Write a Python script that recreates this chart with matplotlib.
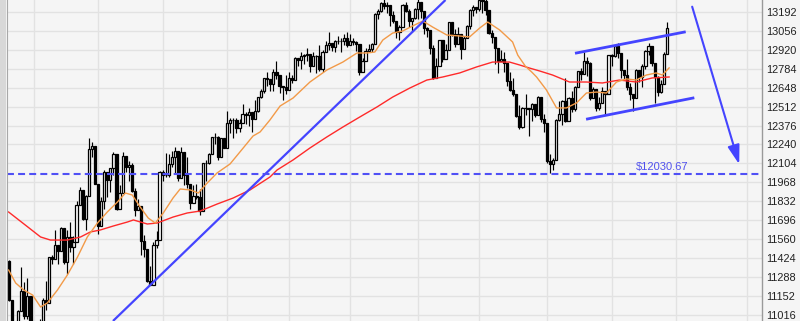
import matplotlib
matplotlib.use("Agg")
import matplotlib.pyplot as plt
import numpy as np
from matplotlib.patches import Rectangle
from matplotlib.lines import Line2D

plt.rcParams["font.family"] = ["Liberation Sans", "DejaVu Sans"]
plt.rcParams["lines.scale_dashes"] = False

# ---- daily OHLC, 21 Sep 2011 .. 27 Jul 2012 (bar 0 = 3 Oct 2011) ----
first_bar = -8

opens = [
    11408, 11125, 10734, 10771, 11044, 11191, 11011, 11154,
    10913, 10655, 10809, 10940, 11123, 11103, 11433, 11416, 11519, 11478, 11644, 11397, 11577, 11505, 11542, 11809, 11914, 11707, 11869, 12209, 12231,
    11955, 11658, 11836, 12044, 11983, 12068, 12170, 11781, 11894, 12154, 12079, 12096, 11906, 11771, 11796, 11547, 11494, 11258, 11232, 11523, 11556,
    12046, 12020, 12019, 12098, 12150, 12196, 11998, 12184, 12021, 11955, 11823, 11869, 11866, 11766, 12104, 12108, 12170, 12294, 12291, 12151, 12287,
    12218, 12397, 12418, 12416, 12360, 12393, 12462, 12449, 12471, 12422, 12482, 12579, 12624, 12720, 12709, 12676, 12757, 12735, 12660, 12654,
    12633, 12716, 12705, 12862, 12845, 12878, 12884, 12890, 12801, 12874, 12878, 12781, 12904, 12950, 12966, 12939, 12985, 12983, 12981, 13005,
    12952, 12980, 12978, 12963, 12759, 12837, 12908, 12922, 12960, 13178, 13194, 13253, 13233, 13239, 13170, 13125, 13046, 13081, 13242, 13198, 13126, 13146,
    13212, 13264, 13200, 13075, 13060, 12930, 12716, 12805, 12987, 12850, 12921, 13116, 13033, 12964, 13029, 12927, 13002, 13091, 13205, 13228,
    13214, 13279, 13269, 13207, 13038, 13009, 12932, 12835, 12855, 12821, 12695, 12632, 12599, 12442, 12369, 12504, 12503, 12496, 12530, 12455, 12581, 12420,
    12393, 12119, 12101, 12128, 12415, 12461, 12554, 12411, 12574, 12496, 12652, 12767, 12742, 12837, 12824, 12574, 12641, 12503, 12535, 12627, 12602,
    12880, 12871, 12944, 12897, 12772, 12736, 12653, 12605, 12573, 12777, 12727, 12806, 12909, 12943, 12823, 12721, 12617, 12676, 12888,
]
highs = [
    11411, 11125, 10830, 11050, 11362, 11257, 11280, 11154,
    10939, 10840, 10987, 11139, 11260, 11433, 11449, 11625, 11519, 11649, 11644, 11630, 11686, 11587, 11832, 11935, 11914, 11880, 12284, 12256, 12231,
    11955, 11860, 12060, 12044, 12075, 12185, 12170, 11950, 12186, 12154, 12120, 12110, 11930, 11850, 11796, 11590, 11494, 11370, 11540, 11620, 12050,
    12060, 12180, 12170, 12190, 12220, 12196, 12220, 12184, 12150, 11955, 11950, 11960, 11920, 12110, 12130, 12180, 12295, 12320, 12300, 12290, 12290,
    12480, 12430, 12430, 12430, 12420, 12530, 12470, 12500, 12471, 12560, 12580, 12640, 12720, 12760, 12710, 12780, 12840, 12735, 12660, 12740,
    12760, 12740, 12870, 12862, 12900, 12890, 12930, 12890, 12900, 12880, 12950, 12920, 12980, 13050, 12970, 12990, 13020, 13000, 13030, 13050,
    13030, 13000, 12980, 12963, 12860, 12930, 12960, 12970, 13180, 13210, 13260, 13290, 13260, 13239, 13200, 13125, 13100, 13250, 13260, 13210, 13150, 13220,
    13290, 13264, 13200, 13080, 13060, 12950, 12860, 12990, 12987, 12960, 13120, 13116, 13070, 13080, 13029, 13020, 13100, 13210, 13240, 13228,
    13338, 13279, 13290, 13207, 13060, 13009, 12932, 12920, 12900, 12821, 12760, 12720, 12600, 12520, 12510, 12600, 12503, 12540, 12530, 12590, 12581, 12460,
    12393, 12170, 12140, 12420, 12550, 12560, 12720, 12580, 12620, 12660, 12770, 12790, 12900, 12870, 12830, 12650, 12641, 12580, 12650, 12627, 12880,
    12890, 12950, 12970, 12897, 12772, 12850, 12680, 12605, 12780, 12777, 12820, 12920, 12970, 12943, 12823, 12730, 12700, 12900, 13120,
]
lows = [
    11120, 10597, 10640, 10771, 11044, 10992, 10990, 10900,
    10653, 10404, 10725, 10939, 11050, 11104, 11380, 11416, 11380, 11478, 11380, 11310, 11470, 11380, 11542, 11809, 11697, 11630, 11869, 12150, 11955,
    11600, 11658, 11780, 11860, 11900, 12020, 11770, 11781, 11894, 12040, 11980, 11900, 11730, 11770, 11450, 11430, 11256, 11231, 11232, 11500, 11556,
    11980, 12010, 12010, 12080, 12030, 11980, 11998, 11950, 11930, 11780, 11823, 11850, 11735, 11766, 11980, 12100, 12170, 12240, 12130, 12151, 12215,
    12218, 12320, 12290, 12320, 12330, 12393, 12390, 12370, 12330, 12422, 12470, 12570, 12610, 12660, 12620, 12620, 12710, 12610, 12560, 12600,
    12633, 12680, 12705, 12800, 12780, 12820, 12840, 12760, 12801, 12750, 12770, 12760, 12900, 12920, 12910, 12900, 12960, 12900, 12950, 12940,
    12952, 12950, 12910, 12740, 12759, 12837, 12900, 12900, 12960, 13140, 13190, 13210, 13180, 13090, 13110, 13000, 12990, 13081, 13190, 13080, 13050, 13140,
    13140, 13150, 13030, 13010, 12890, 12710, 12716, 12805, 12830, 12850, 12921, 13020, 12940, 12964, 12850, 12927, 13002, 13070, 13160, 13180,
    13200, 13180, 13170, 13030, 12970, 12820, 12750, 12835, 12760, 12660, 12620, 12590, 12440, 12350, 12360, 12450, 12300, 12410, 12440, 12455, 12400, 12330,
    12107, 12035, 12060, 12128, 12410, 12380, 12400, 12411, 12470, 12480, 12650, 12700, 12742, 12730, 12560, 12574, 12480, 12490, 12535, 12450, 12602,
    12800, 12870, 12860, 12720, 12700, 12630, 12560, 12480, 12573, 12690, 12650, 12780, 12880, 12800, 12540, 12590, 12610, 12676, 12888,
]
closes = [
    11125, 10734, 10771, 11044, 11191, 11011, 11154, 10913,
    10655, 10809, 10940, 11123, 11103, 11433, 11416, 11519, 11478, 11644, 11397, 11577, 11505, 11542, 11809, 11914, 11707, 11869, 12209, 12231, 11955,
    11658, 11836, 12044, 11983, 12068, 12170, 11781, 11894, 12154, 12079, 12096, 11906, 11771, 11796, 11547, 11494, 11258, 11232, 11523, 11556, 12046,
    12020, 12019, 12098, 12150, 12196, 11998, 12184, 12021, 11955, 11823, 11869, 11866, 11766, 12104, 12108, 12170, 12294, 12291, 12151, 12287, 12218,
    12397, 12418, 12416, 12360, 12393, 12462, 12449, 12471, 12422, 12482, 12579, 12624, 12720, 12709, 12676, 12757, 12735, 12660, 12654, 12633,
    12716, 12705, 12862, 12845, 12878, 12884, 12890, 12801, 12874, 12878, 12781, 12904, 12950, 12966, 12939, 12985, 12983, 12981, 13005, 12952,
    12980, 12978, 12963, 12759, 12837, 12908, 12922, 12960, 13178, 13194, 13253, 13233, 13239, 13170, 13125, 13046, 13081, 13242, 13198, 13126, 13146, 13212,
    13264, 13200, 13075, 13060, 12930, 12716, 12805, 12987, 12850, 12921, 13116, 13033, 12964, 13029, 12927, 13002, 13091, 13205, 13228, 13214,
    13279, 13269, 13207, 13038, 13009, 12932, 12835, 12855, 12821, 12695, 12632, 12599, 12442, 12369, 12504, 12503, 12496, 12530, 12455, 12581, 12420, 12393,
    12119, 12101, 12128, 12415, 12461, 12554, 12411, 12574, 12496, 12652, 12767, 12742, 12837, 12824, 12574, 12641, 12503, 12535, 12627, 12602, 12880,
    12871, 12944, 12897, 12772, 12736, 12653, 12605, 12573, 12777, 12727, 12806, 12909, 12943, 12823, 12721, 12617, 12676, 12888, 13076,
]

# ---- moving averages (bar position, value) ----
ma_fast_bar = [-8.1, -5.8, -3.2, -0.3, 2.3, 4.5, 7.8, 11.0, 14.3, 17.5, 20.8, 24.0, 27.3, 29.9, 32.1, 34.7,
               37.3, 39.6, 42.2, 45.4, 47.7, 51.0, 53.6, 56.5, 59.7, 63.9, 68.2, 71.4, 73.7, 76.9, 80.2,
               84.4, 89.9, 95.4, 100.6, 105.2, 108.4, 111.0, 113.6, 116.8, 120.1, 123.3, 126.6, 129.8,
               134.4, 138.6, 141.8, 145.1, 147.7, 151.6, 155.8, 157.5, 160.0, 162.0, 163.6, 166.8, 170.1,
               173.3, 176.6, 179.8, 183.1, 186.3, 189.6, 192.8, 196.0, 199.3, 202.5, 204.5, 206.7]
ma_fast_val = [11340, 11247, 11197, 11161, 11075, 11104, 11197, 11304, 11433, 11577, 11677, 11756, 11828, 11892, 11878, 11792,
               11713, 11677, 11749, 11857, 11921, 11914, 11892, 11964, 12036, 12100, 12215, 12301, 12330, 12416, 12516,
               12573, 12688, 12774, 12831, 12896, 12896, 12903, 12989, 13039, 13054, 13090, 13125, 13082,
               13025, 13018, 13011, 13075, 13118, 13061, 12975, 12880, 12800, 12760, 12724, 12631, 12502,
               12502, 12538, 12609, 12616, 12609, 12688, 12710, 12702, 12738, 12753, 12738, 12789]

ma_slow_bar = [-8.1, -1.0, 2.3, 5.5, 11.0, 15.3, 18.5, 21.7, 26.0, 30.5, 32.5, 37.0, 40.2, 45.4, 50.0, 54.2,
               59.7, 64.9, 70.4, 76.9, 79.2, 84.4, 89.9, 95.4, 100.6, 106.1, 111.7, 116.8, 122.4, 127.9,
               133.1, 138.6, 144.1, 149.3, 154.8, 158.1, 161.3, 164.6, 168.8, 174.3, 179.8, 185.0, 190.5,
               196.0, 201.2, 206.7]
ma_slow_val = [11756, 11634, 11577, 11555, 11555, 11577, 11613, 11627, 11656, 11684, 11699, 11670, 11677, 11720, 11749, 11763,
               11813, 11856, 11914, 12007, 12057, 12129, 12215, 12294, 12365, 12437, 12509, 12580, 12645, 12702,
               12724, 12753, 12796, 12831, 12831, 12810, 12788, 12767, 12738, 12688, 12688, 12681, 12702,
               12688, 12717, 12724]

# ---- annotations ----
support_level = 12030.67
trend_bars, trend_vals = [25.85, 133.98], [10974.6, 13275.9]
upper_bars, upper_vals = [176.1, 212.1], [12894, 13048]
lower_bars, lower_vals = [179.7, 214.9], [12421, 12575]
arrow_start, arrow_tip = (214.2, 13228), (229.5, 12098)

month_start_bars = [0, 21, 42, 63, 83, 103, 125, 145, 167, 188, 209, 232]
y_ticks = [11016, 11152, 11288, 11424, 11560, 11696, 11832, 11968, 12104,
           12240, 12376, 12512, 12648, 12784, 12920, 13056, 13192]

# ---- figure ----
BG = "#f5f5f5"
fig = plt.figure(figsize=(8.0, 3.21), dpi=100, facecolor=BG)
ax = fig.add_axes([7 / 800, 0, 755 / 800, 1], facecolor=BG)

ax.set_xlim(-8.618, 236.91)
ax.set_ylim(10974.6, 13275.9)

ax.set_xticks(month_start_bars)
ax.set_yticks(y_ticks)
ax.grid(True, color="#e2e2e2", lw=1.0, zorder=0)
ax.set_axisbelow(True)
ax.tick_params(axis="x", length=0, labelbottom=False)
ax.yaxis.tick_right()
ax.tick_params(axis="y", length=0, pad=3, labelsize=7.9, labelcolor="#222222")
for s in ["left", "top", "bottom"]:
    ax.spines[s].set_visible(False)
ax.spines["right"].set_color("#9a9a9a")
ax.spines["right"].set_linewidth(1.0)

x = np.arange(len(closes)) + first_bar
o = np.array(opens, float)
h = np.array(highs, float)
l = np.array(lows, float)
c = np.array(closes, float)

ax.vlines(x, l, h, color="black", lw=0.85, zorder=2)
up = c >= o
bottom = np.minimum(o, c)
height = np.abs(c - o)
ax.bar(x[up], height[up], bottom=bottom[up], width=0.72, facecolor="white",
       edgecolor="black", linewidth=0.9, zorder=3)
ax.bar(x[~up], height[~up], bottom=bottom[~up], width=0.72, facecolor="black",
       edgecolor="black", linewidth=0.9, zorder=3)

ax.plot(ma_slow_bar, ma_slow_val, color="#ff2a2a", lw=1.0, zorder=4)
ax.plot(ma_fast_bar, ma_fast_val, color="#f29a48", lw=1.0, zorder=4)

blue = "#4444ff"
ax.plot(trend_bars, trend_vals, color=blue, lw=1.6, zorder=5, solid_capstyle="butt")
ax.plot(upper_bars, upper_vals, color=blue, lw=2.0, zorder=5, solid_capstyle="butt")
ax.plot(lower_bars, lower_vals, color=blue, lw=2.0, zorder=5, solid_capstyle="butt")
ax.axhline(support_level, color="#5050f5", lw=1.5, dashes=(5.0, 3.0), zorder=5)
ax.annotate(r"\$%.2f" % support_level, xy=(212.8, support_level), xytext=(0, 1.2),
            textcoords="offset points", ha="right", va="bottom",
            color="#5050ee", fontsize=8, zorder=6)
ax.annotate("", xy=arrow_tip, xytext=arrow_start,
            arrowprops=dict(arrowstyle="-|>,head_length=1.15,head_width=0.36",
                            color=blue, lw=1.5, shrinkA=0, shrinkB=0,
                            mutation_scale=10), zorder=6)

# left frame band
fig.add_artist(Rectangle((0, 0), 6 / 800, 1, transform=fig.transFigure,
                         facecolor="#d8d8d8", edgecolor="none"))
fig.add_artist(Line2D([6.5 / 800, 6.5 / 800], [0, 1], transform=fig.transFigure,
                      color="#a8a8a8", lw=0.8))

fig.savefig("out.png", dpi=100, facecolor=BG)
